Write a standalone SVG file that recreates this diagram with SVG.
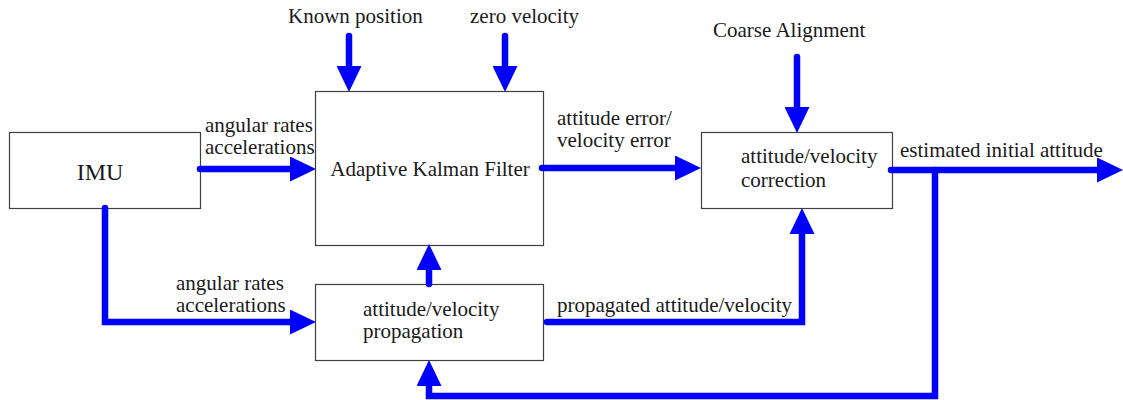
<svg xmlns="http://www.w3.org/2000/svg" width="1123" height="400" viewBox="0 0 1123 400">
<style>
.box{fill:#fff;stroke:#404040;stroke-width:1.2}
text{font-family:"Liberation Serif","Times New Roman",serif;font-size:21px;fill:#1a1a1a}
.c{fill:none;stroke:#0000ff;stroke-width:6.5;stroke-linecap:round;stroke-linejoin:miter}
</style>
<defs>
<marker id="ah" markerUnits="userSpaceOnUse" viewBox="0 -12.5 26 25" markerWidth="26" markerHeight="25" refX="0" refY="0" orient="auto">
<path d="M0,-12.5 L26,0 L0,12.5 Z" fill="#0000ff"/>
</marker>
</defs>
<rect width="1123" height="400" fill="#fff"/>
<g id="imu"><rect class="box" x="9.5" y="132.5" width="191" height="76"/><text x="100" y="180" text-anchor="middle" style="font-size:24px">IMU</text></g>
<g id="akf"><rect class="box" x="315.5" y="91.5" width="228" height="154"/><text x="430" y="176" text-anchor="middle">Adaptive Kalman Filter</text></g>
<g id="correction"><rect class="box" x="701.5" y="132.5" width="191" height="76"/><text x="741" y="163">attitude/velocity</text><text x="741" y="187">correction</text></g>
<g id="propagation"><rect class="box" x="315.5" y="284.5" width="228" height="76"/><text x="363" y="316">attitude/velocity</text><text x="363" y="338">propagation</text></g>
<g id="connectors">
<path class="c" marker-end="url(#ah)" d="M200,169 H290"/>
<path class="c" marker-end="url(#ah)" d="M349,36 V66"/>
<path class="c" marker-end="url(#ah)" d="M505,36 V66"/>
<path class="c" marker-end="url(#ah)" d="M542,168 H675"/>
<path class="c" marker-end="url(#ah)" d="M797,57 V107"/>
<path class="c" marker-end="url(#ah)" d="M891,170 H1097"/>
<path class="c" marker-end="url(#ah)" d="M935,170 V396 H429 V386"/>
<path class="c" marker-end="url(#ah)" d="M105,208 V322 H290"/>
<path class="c" marker-end="url(#ah)" d="M429,284 V270"/>
<path class="c" marker-end="url(#ah)" d="M547,322 H802 V234"/>
</g>
<g id="labels">
<text x="288" y="23">Known position</text>
<text x="470" y="23">zero velocity</text>
<text x="713" y="37">Coarse Alignment</text>
<text x="205" y="132">angular rates</text>
<text x="205" y="154">accelerations</text>
<text x="557" y="125">attitude error/</text>
<text x="557" y="147">velocity error</text>
<text x="900" y="157">estimated initial attitude</text>
<text x="176" y="290">angular rates</text>
<text x="176" y="312">accelerations</text>
<text x="557" y="312">propagated attitude/velocity</text>
</g>
</svg>
